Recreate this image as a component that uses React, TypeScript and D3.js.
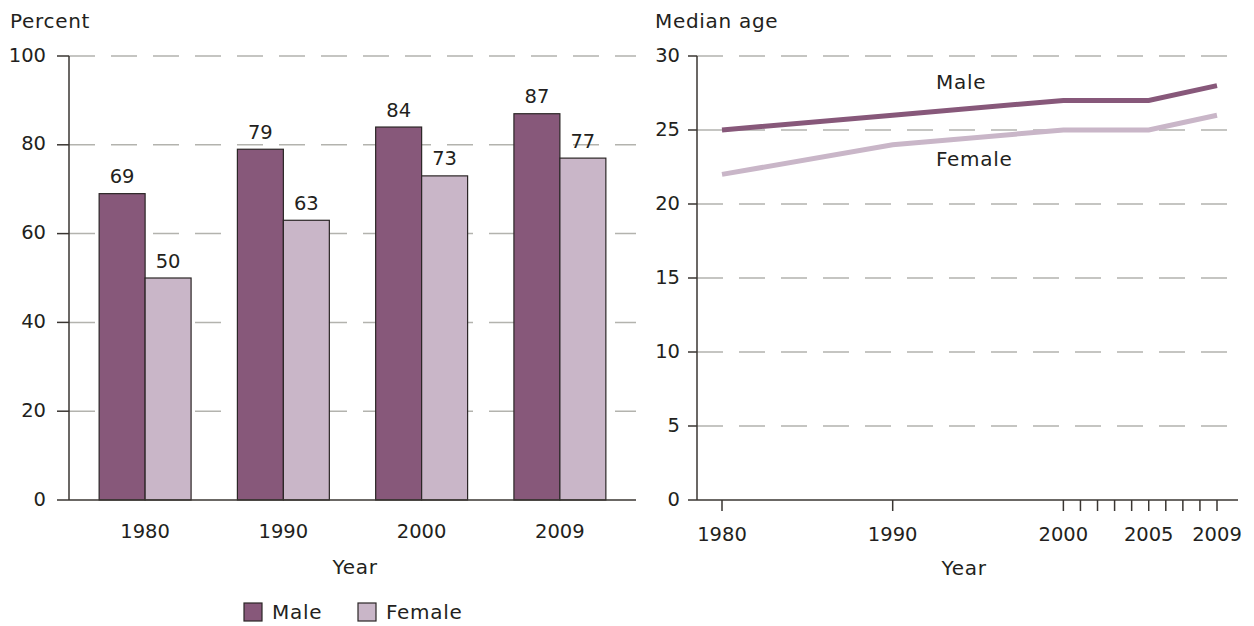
import React from "react";
import * as d3 from "d3";

const barYears = ["1980", "1990", "2000", "2009"];
const maleShare = [69, 79, 84, 87];
const femaleShare = [50, 63, 73, 77];
const pctTicks = [0, 20, 40, 60, 80, 100];

const lineYears = [1980, 1990, 2000, 2005, 2009];
const maleAge = [25, 26, 27, 27, 28];
const femaleAge = [22, 24, 25, 25, 26];
const ageTicks = [0, 5, 10, 15, 20, 25, 30];
const yearTickMarks = [1980, 1990, 2000, 2001, 2002, 2003, 2004, 2005, 2006, 2007, 2008, 2009];
const yearTickLabels = [1980, 1990, 2000, 2005, 2009];

const MALE = "#87587a";
const FEMALE = "#c9b6c8";
const TEXT = "#231f20";
const GRID = "#b3b3ae";
const AXIS = "#3a3632";
const FONT = "DejaVu Sans, sans-serif";
const NUM = 19.5;
const WORD = 20;
const LS = 0.7;

export default function App() {
  const yL = d3.scaleLinear().domain([0, 100]).range([500, 56]);
  const xL = d3
    .scaleBand<string>()
    .domain(barYears)
    .range([69, 636])
    .paddingInner(0.335)
    .paddingOuter(0.218);
  const xSub = d3
    .scaleBand<string>()
    .domain(["Male", "Female"])
    .range([0, xL.bandwidth()]);

  const yR = d3.scaleLinear().domain([0, 30]).range([500, 56]);
  const xR = d3.scaleLinear().domain([1980, 2009]).range([722, 1217]);
  const line = d3
    .line<number>()
    .x((_, i) => xR(lineYears[i]))
    .y((d) => yR(d));

  const series = [
    { key: "Male", vals: maleShare, color: MALE },
    { key: "Female", vals: femaleShare, color: FEMALE },
  ];

  return (
    <svg
      width={1254}
      height={626}
      style={{ position: "absolute", left: 0, top: 0, background: "#fff" }}
      fontFamily={FONT}
      fill={TEXT}
    >
      {/* ===== Left chart ===== */}
      <text x={10} y={28} fontSize={WORD} letterSpacing={LS}>Percent</text>
      {pctTicks.map((t) => (
        <g key={"lg" + t}>
          {t > 0 && (
            <line
              x1={69}
              x2={636}
              y1={yL(t)}
              y2={yL(t)}
              stroke={GRID}
              strokeWidth={1.5}
              strokeDasharray="26 16"
            />
          )}
          <line x1={57} x2={69} y1={yL(t)} y2={yL(t)} stroke={AXIS} strokeWidth={1.5} />
          <text x={46} y={yL(t)} fontSize={NUM} textAnchor="end" dominantBaseline="middle">
            {t}
          </text>
        </g>
      ))}
      {barYears.map((yr, i) => (
        <g key={yr} transform={`translate(${xL(yr)},0)`}>
          {series.map((s) => (
            <g key={s.key}>
              <rect
                x={xSub(s.key)}
                y={yL(s.vals[i])}
                width={xSub.bandwidth()}
                height={yL(0) - yL(s.vals[i])}
                fill={s.color}
                stroke="#2b2626"
                strokeWidth={1.2}
              />
              <text
                x={(xSub(s.key) as number) + xSub.bandwidth() / 2}
                y={yL(s.vals[i]) - 16}
                fontSize={NUM}
                textAnchor="middle"
                dominantBaseline="middle"
              >
                {s.vals[i]}
              </text>
            </g>
          ))}
          <text
            x={xL.bandwidth() / 2}
            y={532}
            fontSize={NUM}
            textAnchor="middle"
            dominantBaseline="middle"
          >
            {yr}
          </text>
        </g>
      ))}
      <line x1={69} x2={69} y1={56} y2={500} stroke={AXIS} strokeWidth={1.5} />
      <line x1={69} x2={636} y1={500} y2={500} stroke={AXIS} strokeWidth={1.5} />
      <text x={355} y={568} fontSize={WORD} letterSpacing={LS} textAnchor="middle" dominantBaseline="middle">
        Year
      </text>
      <rect x={244} y={603} width={18} height={18} fill={MALE} stroke="#2b2626" strokeWidth={1.2} />
      <text x={272} y={613} fontSize={WORD} letterSpacing={LS} dominantBaseline="middle">Male</text>
      <rect x={358} y={603} width={18} height={18} fill={FEMALE} stroke="#2b2626" strokeWidth={1.2} />
      <text x={386} y={613} fontSize={WORD} letterSpacing={LS} dominantBaseline="middle">Female</text>

      {/* ===== Right chart ===== */}
      <text x={655} y={28} fontSize={WORD} letterSpacing={LS}>Median age</text>
      {ageTicks.map((t) => (
        <g key={"rg" + t}>
          {t > 0 && (
            <line
              x1={697}
              x2={1236}
              y1={yR(t)}
              y2={yR(t)}
              stroke={GRID}
              strokeWidth={1.5}
              strokeDasharray="26 16"
            />
          )}
          <line x1={688} x2={697} y1={yR(t)} y2={yR(t)} stroke={AXIS} strokeWidth={1.5} />
          <text x={680} y={yR(t)} fontSize={NUM} textAnchor="end" dominantBaseline="middle">
            {t}
          </text>
        </g>
      ))}
      <line x1={697} x2={697} y1={56} y2={500} stroke={AXIS} strokeWidth={1.5} />
      <line x1={697} x2={1238} y1={500} y2={500} stroke={AXIS} strokeWidth={1.5} />
      {yearTickMarks.map((yr) => (
        <line
          key={"tm" + yr}
          x1={xR(yr)}
          x2={xR(yr)}
          y1={500}
          y2={511}
          stroke={AXIS}
          strokeWidth={1.5}
        />
      ))}
      {yearTickLabels.map((yr) => (
        <text
          key={"tl" + yr}
          x={xR(yr)}
          y={535}
          fontSize={NUM}
          textAnchor="middle"
          dominantBaseline="middle"
        >
          {yr}
        </text>
      ))}
      <text x={964} y={569} fontSize={WORD} letterSpacing={LS} textAnchor="middle" dominantBaseline="middle">
        Year
      </text>
      <path d={line(femaleAge) || ""} fill="none" stroke={FEMALE} strokeWidth={5} />
      <path d={line(maleAge) || ""} fill="none" stroke={MALE} strokeWidth={5} />
      <text x={936} y={83} fontSize={WORD} letterSpacing={LS} dominantBaseline="middle">Male</text>
      <text x={936} y={160} fontSize={WORD} letterSpacing={LS} dominantBaseline="middle">Female</text>
    </svg>
  );
}
